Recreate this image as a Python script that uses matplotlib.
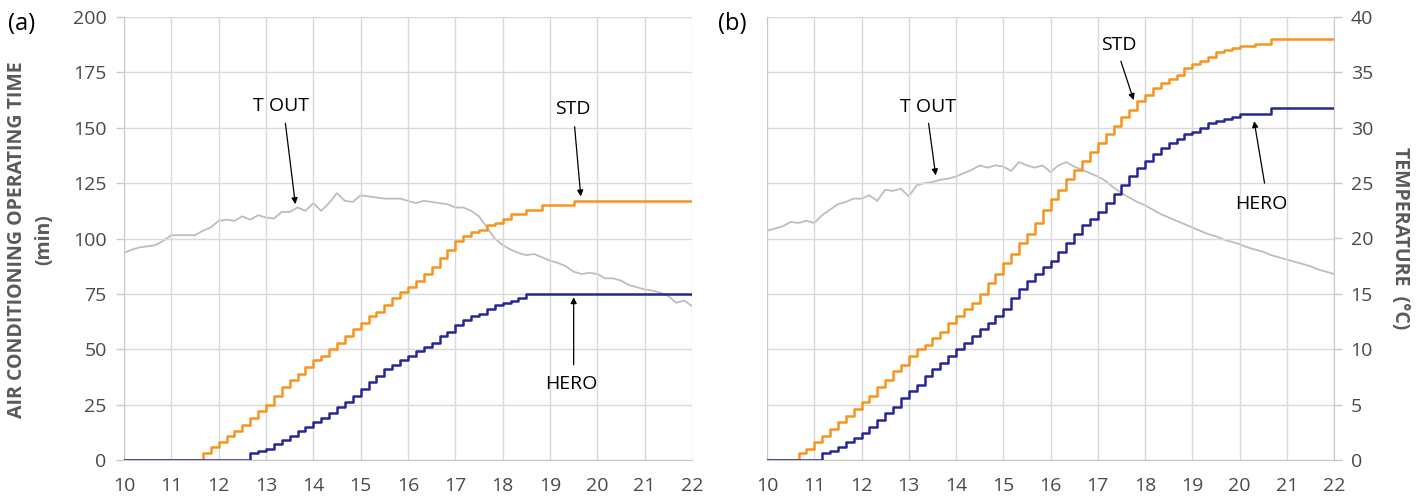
import numpy as np
import matplotlib
matplotlib.use("Agg")
import matplotlib.pyplot as plt

plt.rcParams['font.family'] = ['Open Sans', 'DejaVu Sans']

# time axis: 10:00 to 22:00 every 10 minutes (hours)
hours = np.arange(0, 73) / 6.0 + 10.0
x_ticks = list(range(10, 23))

# ---------- panel (a) ----------
std_a = [0, 0, 0, 0, 0, 0, 0, 0, 0, 0,
         3, 6, 8, 11, 13, 16, 19, 22, 25, 29,
         33, 36, 39, 42, 45, 47, 50, 53, 56, 59,
         62, 65, 67, 70, 73, 76, 78, 81, 84, 87,
         91, 95, 99, 101, 103, 104, 106, 107, 109, 111,
         111, 113, 113, 115, 115, 115, 115, 117, 117, 117,
         117, 117, 117, 117, 117, 117, 117, 117, 117, 117,
         117, 117, 117]
hero_a = [0, 0, 0, 0, 0, 0, 0, 0, 0, 0,
          0, 0, 0, 0, 0, 0, 3, 4, 5, 7,
          9, 11, 13, 15, 17, 19, 21, 24, 26, 29,
          32, 35, 38, 41, 43, 45, 47, 49, 51, 53,
          56, 58, 61, 63, 65, 66, 68, 70, 71, 72,
          73, 75, 75, 75, 75, 75, 75, 75, 75, 75,
          75, 75, 75, 75, 75, 75, 75, 75, 75, 75,
          75, 75, 75]
tout_a = [18.7, 19.0, 19.2, 19.3, 19.4, 19.8, 20.3, 20.3, 20.3, 20.3,
          20.7, 21.0, 21.6, 21.7, 21.6, 22.0, 21.7, 22.1, 21.9, 21.8,
          22.4, 22.4, 22.8, 22.5, 23.2, 22.5, 23.2, 24.1, 23.4, 23.3,
          23.9, 23.8, 23.7, 23.6, 23.6, 23.6, 23.4, 23.2, 23.4, 23.3,
          23.2, 23.1, 22.8, 22.8, 22.5, 22.0, 21.0, 20.0, 19.4, 19.0,
          18.7, 18.5, 18.6, 18.3, 18.0, 17.8, 17.5, 17.0, 16.8, 16.9,
          16.8, 16.4, 16.4, 16.2, 15.8, 15.6, 15.4, 15.3, 15.1, 14.8,
          14.2, 14.4, 13.9]

# ---------- panel (b) ----------
std_b = [0, 0, 0, 0, 3, 5, 8, 11, 14, 17,
         20, 23, 26, 29, 33, 36, 40, 43, 47, 50,
         52, 55, 58, 62, 65, 68, 71, 75, 80, 84,
         89, 93, 98, 102, 107, 113, 118, 122, 127, 131,
         135, 139, 143, 147, 151, 155, 158, 162, 165, 168,
         170, 172, 174, 177, 179, 180, 182, 184, 185, 186,
         187, 187, 188, 188, 190, 190, 190, 190, 190, 190,
         190, 190, 190]
hero_b = [0, 0, 0, 0, 0, 0, 0, 3, 4, 6,
          8, 10, 12, 15, 18, 21, 24, 28, 31, 34,
          38, 41, 44, 47, 50, 53, 56, 59, 62, 65,
          68, 73, 77, 81, 84, 87, 90, 94, 98, 102,
          106, 109, 112, 116, 120, 124, 128, 132, 135, 138,
          141, 143, 145, 147, 148, 150, 152, 153, 154, 155,
          156, 156, 156, 156, 159, 159, 159, 159, 159, 159,
          159, 159, 159]
tout_b = [20.7, 20.9, 21.1, 21.5, 21.4, 21.6, 21.4, 22.1, 22.6, 23.1,
          23.3, 23.6, 23.6, 23.9, 23.4, 24.4, 24.3, 24.5, 23.8, 24.8,
          25.0, 25.1, 25.3, 25.4, 25.6, 25.9, 26.2, 26.6, 26.4, 26.6,
          26.5, 26.1, 26.9, 26.6, 26.4, 26.6, 26.0, 26.6, 26.9, 26.5,
          26.2, 25.9, 25.6, 25.2, 24.6, 24.1, 23.7, 23.3, 23.0, 22.6,
          22.2, 21.9, 21.6, 21.3, 21.0, 20.7, 20.4, 20.2, 19.9, 19.7,
          19.5, 19.2, 19.0, 18.8, 18.5, 18.3, 18.1, 17.9, 17.7, 17.5,
          17.2, 17.0, 16.8]

time_ticks = list(range(0, 201, 25))
temp_ticks = list(range(0, 41, 5))

C_STD = '#F7941D'
C_HERO = '#262696'
C_TOUT = '#BDBDBD'
C_GRID = '#D9D9D9'
C_TXT = '#4A4A4A'
FS = 14

fig = plt.figure(figsize=(14.27, 4.97), dpi=100)
W, H = 1427.0, 497.0
bottom = 1 - 460 / H
height = (460 - 17) / H
axA = fig.add_axes([124 / W, bottom, (692 - 124) / W, height])
axB = fig.add_axes([767 / W, bottom, (1334 - 767) / W, height])


def style(ax, show_left):
    ax.set_xlim(10, 22)
    ax.set_ylim(0, 200)
    ax.set_xticks(x_ticks)
    ax.set_yticks(time_ticks)
    ax.grid(True, color=C_GRID, lw=1.0)
    ax.set_axisbelow(True)
    for s in ['top', 'right']:
        ax.spines[s].set_visible(False)
    ax.spines['bottom'].set_color('#C8C8C8')
    ax.spines['left'].set_color('#C8C8C8')
    ax.tick_params(axis='x', length=0, pad=12, labelsize=FS, labelcolor=C_TXT)
    if show_left:
        ax.tick_params(axis='y', length=6, width=1, color='#C8C8C8', pad=6.5,
                       labelsize=FS, labelcolor=C_TXT)
    else:
        ax.tick_params(axis='y', length=0, labelleft=False)


def twin(ax, show_right):
    t = ax.twinx()
    t.set_ylim(0, 40)
    t.set_yticks(temp_ticks)
    for s in ['top', 'left', 'bottom']:
        t.spines[s].set_visible(False)
    if show_right:
        t.spines['right'].set_color('#C8C8C8')
        t.tick_params(axis='y', length=6, width=1, color='#C8C8C8', pad=6,
                      labelsize=FS, labelcolor=C_TXT)
    else:
        t.spines['right'].set_visible(False)
        t.tick_params(axis='y', length=0, labelright=False)
    return t


style(axA, True)
tA = twin(axA, False)
style(axB, False)
tB = twin(axB, True)

# panel a
tA.plot(hours, tout_a, color=C_TOUT, lw=1.3, zorder=2)
axA.plot(hours, std_a, drawstyle='steps-post', color=C_STD, lw=1.8, zorder=3)
axA.plot(hours, hero_a, drawstyle='steps-post', color=C_HERO, lw=1.8, zorder=3)
axA.set_zorder(tA.get_zorder() + 1)
axA.patch.set_visible(False)

# panel b
tB.plot(hours, tout_b, color=C_TOUT, lw=1.3, zorder=2)
axB.plot(hours, std_b, drawstyle='steps-post', color=C_STD, lw=1.8, zorder=3)
axB.plot(hours, hero_b, drawstyle='steps-post', color=C_HERO, lw=1.8, zorder=3)
axB.set_zorder(tB.get_zorder() + 1)
axB.patch.set_visible(False)

arrow = dict(arrowstyle='-|>', color='black', lw=0.9, mutation_scale=9,
             shrinkA=0, shrinkB=0)


def ann(ax, label, xy, xytext_start, text_pos):
    ax.annotate('', xy=xy, xytext=xytext_start, arrowprops=arrow, zorder=5)
    ax.text(text_pos[0], text_pos[1], label, ha='center', va='center',
            fontsize=FS, color='black', zorder=6)


ann(axA, 'T OUT', (13.62, 115.5), (13.41, 152), (13.32, 160))
ann(axA, 'STD', (19.65, 119), (19.52, 150.5), (19.48, 158.5))
ann(axA, 'HERO', (19.5, 73.5), (19.5, 43), (19.46, 34.5))

ann(axB, 'T OUT', (13.57, 128.5), (13.42, 152), (13.40, 159.5))
ann(axB, 'STD', (17.76, 162.5), (17.49, 180), (17.44, 187.5))
ann(axB, 'HERO', (20.31, 153), (20.53, 125), (20.46, 115.5))

fig.text(8 / W, 1 - 24 / H, '(a)', fontsize=17, color='black', ha='left', va='center')
fig.text(718 / W, 1 - 24 / H, '(b)', fontsize=17, color='black', ha='left', va='center')

fig.text(17 / W, 1 - 240 / H, 'AIR CONDITIONING OPERATING TIME',
         rotation=90, ha='center', va='center', fontsize=14, fontweight='bold',
         color='#595959')
fig.text(44 / W, 1 - 240 / H, '(min)',
         rotation=90, ha='center', va='center', fontsize=14, fontweight='bold',
         color='#595959')
fig.text(1400 / W, 1 - 238 / H, 'TEMPERATURE  (°C)', rotation=-90,
         ha='center', va='center', fontsize=14, fontweight='bold', color='#595959')

fig.savefig('out.png', dpi=100)
